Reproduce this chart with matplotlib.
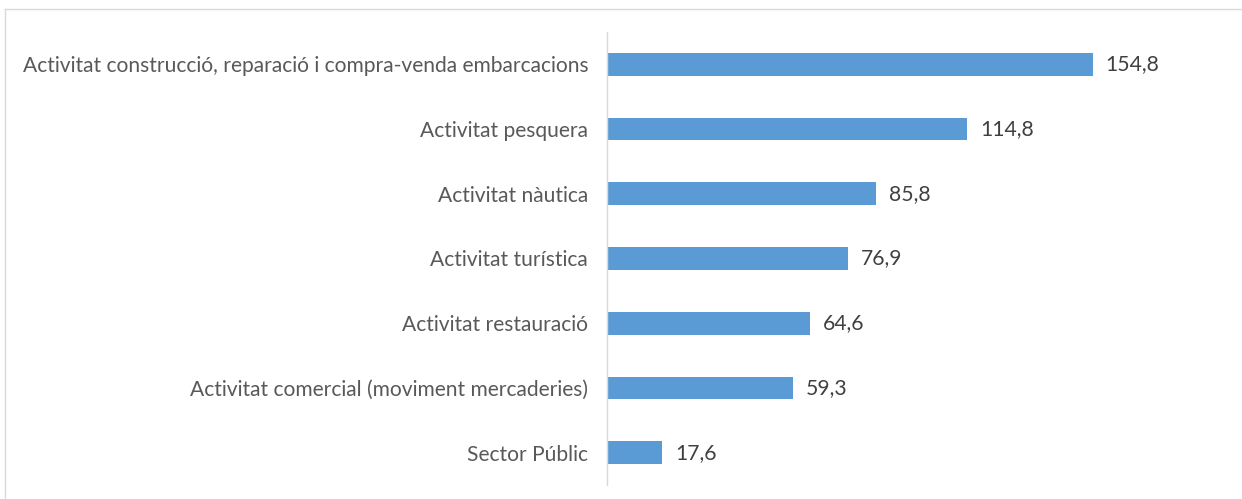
import matplotlib
matplotlib.use("Agg")
import matplotlib.pyplot as plt
from matplotlib.lines import Line2D

categories = [
    "Sector Públic",
    "Activitat comercial (moviment mercaderies)",
    "Activitat restauració",
    "Activitat turística",
    "Activitat nàutica",
    "Activitat pesquera",
    "Activitat construcció, reparació i compra-venda embarcacions",
]
values = [17.6, 59.3, 64.6, 76.9, 85.8, 114.8, 154.8]

W, H = 1242, 499
fig = plt.figure(figsize=(W / 100, H / 100), dpi=100)
plt.rcParams["font.family"] = ["Lato", "DejaVu Sans"]

# axes placed in pixel terms
ax_left, ax_right, ax_top, ax_bottom = 607, 1235, 32, 485
ax = fig.add_axes([ax_left / W, 1 - ax_bottom / H,
                   (ax_right - ax_left) / W, (ax_bottom - ax_top) / H])

bar_color = "#5B9BD5"
text_color = "#595959"
ypos = list(range(len(categories)))
ax.barh(ypos, values, height=0.35, color=bar_color, zorder=2)

for y, v in zip(ypos, values):
    ax.text(v + 4, y, f"{v:.1f}".replace(".", ","), va="center", ha="left",
            fontsize=15.2, color="#404040")

ax.set_xlim(0, 200)
ax.set_ylim(-0.5, len(categories) - 0.5)
ax.set_yticks(ypos)
ax.set_yticklabels(categories, fontsize=15.1, color=text_color)
ax.tick_params(axis="y", length=0, pad=13.5)
ax.set_xticks([])
for side in ["top", "right", "bottom"]:
    ax.spines[side].set_visible(False)
ax.spines["left"].set_color("#D9D9D9")
ax.spines["left"].set_linewidth(1.0)

# chart frame
fig.add_artist(Line2D([5 / W, 1.0], [1 - 9 / H, 1 - 9 / H], transform=fig.transFigure,
                      color="#D9D9D9", linewidth=1.0))
fig.add_artist(Line2D([5 / W, 5 / W], [0.0, 1 - 9 / H], transform=fig.transFigure,
                      color="#D9D9D9", linewidth=1.0))

fig.savefig("out.png", dpi=100)
